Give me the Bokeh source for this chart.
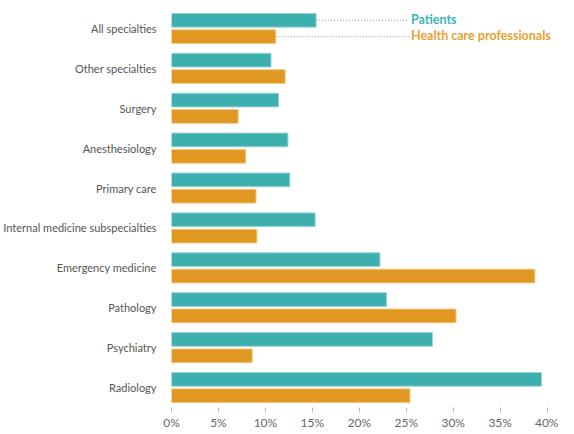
from bokeh.plotting import figure
from bokeh.models import ColumnDataSource, FactorRange, FixedTicker, PrintfTickFormatter
from bokeh.transform import dodge
from bokeh.core.properties import value
from bokeh.embed import file_html
from bokeh.resources import INLINE

# ---- data (top to bottom as in the chart) ----
CATEGORIES = ["All specialties", "Other specialties", "Surgery", "Anesthesiology",
              "Primary care", "Internal medicine subspecialties", "Emergency medicine",
              "Pathology", "Psychiatry", "Radiology"]
PATIENTS = [15.4, 10.6, 11.4, 12.4, 12.6, 15.3, 22.2, 22.9, 27.8, 39.4]
HCP = [11.1, 12.1, 7.1, 7.9, 9.0, 9.1, 38.7, 30.3, 8.6, 25.4]
SERIES = ["Patients", "Health care professionals"]
X_TICKS = [0, 5, 10, 15, 20, 25, 30, 35, 40]

TEAL = "#3DAFAF"
TEAL_EDGE = "#9AD6D6"
ORANGE = "#E09822"
ORANGE_EDGE = "#F2C987"
FONT = "Lato"
LEGEND_X = 25.5

source = ColumnDataSource(dict(cat=CATEGORIES, pat=PATIENTS, hcp=HCP))

p = figure(width=558, height=432, output_backend="svg", toolbar_location=None,
           y_range=FactorRange(factors=CATEGORIES[::-1]), x_range=(0, 41.0))
p.min_border = 0
p.min_border_left = 167
p.min_border_right = 2
p.min_border_top = 8
p.min_border_bottom = 0
p.outline_line_color = None
p.xgrid.grid_line_color = None
p.ygrid.grid_line_color = None

OFF = 0.205
H = 0.345
p.hbar(y=dodge("cat", OFF, range=p.y_range), left=0, right="pat", height=H, source=source,
       fill_color=TEAL, line_color=TEAL_EDGE, line_width=1)
p.hbar(y=dodge("cat", -OFF, range=p.y_range), left=0, right="hcp", height=H, source=source,
       fill_color=ORANGE, line_color=ORANGE_EDGE, line_width=1)

# legend leaders and labels next to the first group
leg = ColumnDataSource(dict(cat=[CATEGORIES[0]], pat=[PATIENTS[0]], hcp=[HCP[0]],
                            lx=[LEGEND_X - 0.25], tx=[LEGEND_X],
                            t1=[SERIES[0]], t2=[SERIES[1]]))
p.segment(x0="pat", x1="lx", y0=dodge("cat", OFF, range=p.y_range),
          y1=dodge("cat", OFF, range=p.y_range), source=leg,
          line_color="#9a9a9a", line_dash="1 2", line_width=1)
p.segment(x0="hcp", x1="lx", y0=dodge("cat", -OFF, range=p.y_range),
          y1=dodge("cat", -OFF, range=p.y_range), source=leg,
          line_color="#9a9a9a", line_dash="1 2", line_width=1)
p.text(x="tx", y=dodge("cat", OFF + 0.03, range=p.y_range), text="t1", source=leg,
       text_font=value(FONT), text_font_style="bold", text_font_size="12.5px",
       text_color="#3DB5B8", text_baseline="middle", text_align="left")
p.text(x="tx", y=dodge("cat", -OFF + 0.02, range=p.y_range), text="t2", source=leg,
       text_font=value(FONT), text_font_style="bold", text_font_size="12.5px",
       text_color="#E8A033", text_baseline="middle", text_align="left")

# axes
xa = p.xaxis[0]
xa.ticker = FixedTicker(ticks=X_TICKS)
xa.formatter = PrintfTickFormatter(format="%d%%")
xa.axis_line_color = None
xa.major_tick_in = 0
xa.major_tick_out = 5
xa.major_tick_line_color = "#bbbbbb"
xa.minor_tick_line_color = None
xa.major_label_text_font = FONT
xa.major_label_text_font_size = "12px"
xa.major_label_text_color = "#666666"
xa.major_label_standoff = 2
xa.major_label_text_line_height = 1.0

ya = p.yaxis[0]
ya.axis_line_color = None
ya.major_tick_line_color = None
ya.minor_tick_line_color = None
ya.major_label_text_font = FONT
ya.major_label_text_font_size = "11px"
ya.major_label_text_color = "#555555"
ya.major_label_standoff = 9

open("out.html", "w").write(file_html(p, INLINE))
